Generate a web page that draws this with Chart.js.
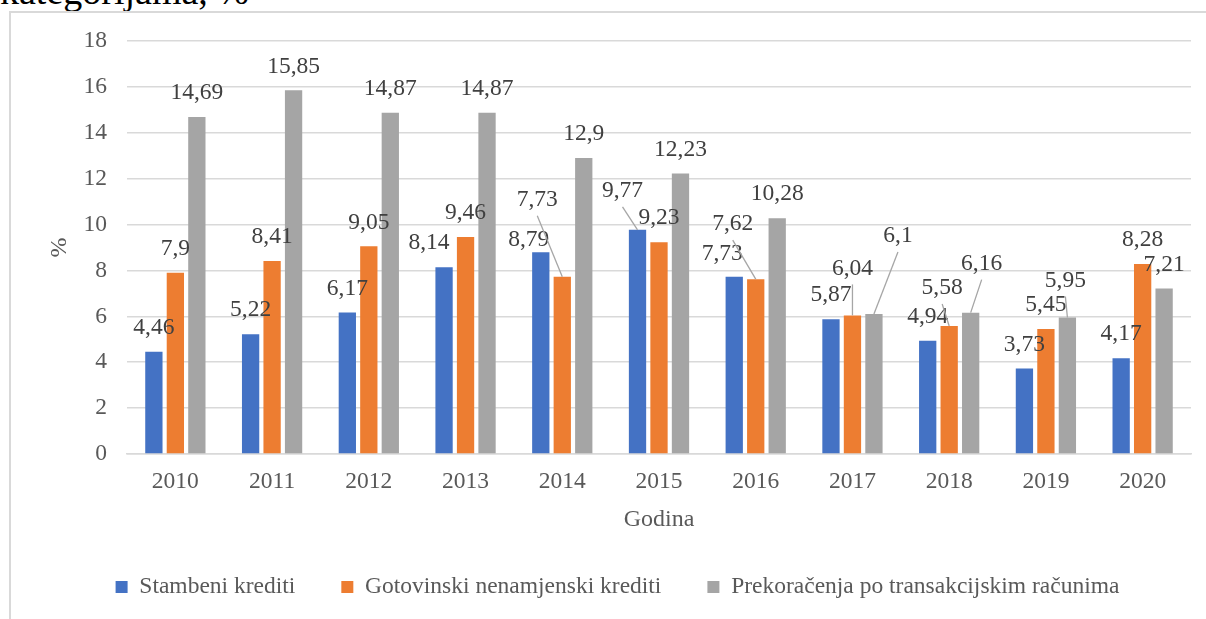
<!DOCTYPE html>
<html>
<head>
<meta charset="utf-8">
<script src="https://cdn.jsdelivr.net/npm/chart.js@4/dist/chart.umd.min.js"></script>
<style>
  html, body { margin: 0; padding: 0; background: #ffffff; overflow: hidden; }
  #wrap { position: relative; width: 1206px; height: 619px; overflow: hidden; }
  #frame { position: absolute; left: 9px; top: 11px; width: 1300px; height: 700px; border: 2px solid #d9d9d9; box-sizing: border-box; }
  #doctitle { position: absolute; left: 0; top: -27px; font-family: "Liberation Serif", "Times New Roman", serif; font-size: 38px; line-height: 37px; color: #000; white-space: nowrap; }
  #c { position: absolute; left: 0; top: 0; }
</style>
</head>
<body>
<div id="wrap">
  <div id="doctitle">kategorijama, %</div>
  <div id="frame"></div>
  <canvas id="c" width="1206" height="619"></canvas>
</div>
<script>
const categories = ["2010", "2011", "2012", "2013", "2014", "2015", "2016", "2017", "2018", "2019", "2020"];
const stambeni = [4.46, 5.22, 6.17, 8.14, 8.79, 9.77, 7.73, 5.87, 4.94, 3.73, 4.17];
const gotovinski = [7.9, 8.41, 9.05, 9.46, 7.73, 9.23, 7.62, 6.04, 5.58, 5.45, 8.28];
const prekoracenja = [14.69, 15.85, 14.87, 14.87, 12.9, 12.23, 10.28, 6.1, 6.16, 5.95, 7.21];
const seriesNames = ["Stambeni krediti", "Gotovinski nenamjenski krediti", "Prekoračenja po transakcijskim računima"];
const yTicks = [0, 2, 4, 6, 8, 10, 12, 14, 16, 18];

// label displacement (px) for moved data labels: "dataset-index": [dx, dy, leaderLine]
const labelShift = {
  "0-3": [-15, 0, false],
  "0-4": [-12, 12, false],
  "0-5": [-15, -15, true],
  "0-6": [-12, 1, false],
  "1-4": [-25, -53, true],
  "1-6": [-23, -31, true],
  "1-7": [0, -23, true],
  "1-8": [-7, -14, true],
  "2-7": [24, -54, true],
  "2-8": [11, -25, true],
  "2-9": [-2, -13, true]
};

const SERIF = '"Liberation Serif", "Times New Roman", serif';
const FS = 23.5;

const dataLabels = {
  id: 'dataLabels',
  afterDatasetsDraw(chart) {
    const ctx = chart.ctx;
    ctx.save();
    ctx.font = FS + 'px ' + SERIF;
    ctx.textAlign = 'center';
    ctx.textBaseline = 'middle';
    chart.data.datasets.forEach((ds, di) => {
      const meta = chart.getDatasetMeta(di);
      meta.data.forEach((el, i) => {
        const v = ds.data[i];
        const sh = labelShift[di + '-' + i] || [0, 0, false];
        const lx = el.x + sh[0];
        const ly = el.y - 24 + sh[1];
        if (sh[2]) {
          ctx.strokeStyle = '#a6a6a6';
          ctx.lineWidth = 1.3;
          ctx.beginPath();
          ctx.moveTo(lx, ly + 16);
          ctx.lineTo(el.x, el.y);
          ctx.stroke();
        }
        ctx.fillStyle = '#404040';
        ctx.fillText(String(v).replace('.', ','), lx, ly);
      });
    });
    ctx.restore();
  }
};

new Chart(document.getElementById('c'), {
  type: 'bar',
  data: {
    labels: categories,
    datasets: [
      { label: seriesNames[0], data: stambeni, backgroundColor: '#4472C4' },
      { label: seriesNames[1], data: gotovinski, backgroundColor: '#ED7D31' },
      { label: seriesNames[2], data: prekoracenja, backgroundColor: '#A5A5A5' }
    ]
  },
  options: {
    responsive: false,
    animation: false,
    devicePixelRatio: 1,
    layout: { padding: { left: 44, right: 15, top: 41, bottom: 10.25 } },
    datasets: { bar: { categoryPercentage: 0.6663, barPercentage: 0.805 } },
    plugins: {
      legend: {
        position: 'bottom',
        labels: {
          boxWidth: 12, boxHeight: 12, padding: 46,
          color: '#595959',
          font: { family: SERIF, size: FS }
        }
      },
      tooltip: { enabled: false }
    },
    scales: {
      x: {
        grid: { display: false, drawTicks: false },
        border: { display: true, color: '#d9d9d9', width: 1.5 },
        ticks: { color: '#595959', font: { family: SERIF, size: FS }, padding: 14, maxRotation: 0 },
        title: { display: true, text: 'Godina', color: '#595959', font: { family: SERIF, size: 24, lineHeight: 0.7 }, padding: { top: 0, bottom: 0.85 } },
        afterFit(s) { s.height = 75.25; }
      },
      y: {
        min: 0, max: 18,
        afterBuildTicks(s) { s.ticks = yTicks.map(v => ({ value: v })); },
        grid: { color: '#d9d9d9', lineWidth: 1.5, drawTicks: false },
        border: { display: false },
        ticks: { color: '#595959', font: { family: SERIF, size: FS }, padding: 20 },
        title: { display: true, text: '%', color: '#595959', font: { family: SERIF, size: 24, lineHeight: 1 }, padding: { top: 4, bottom: 0 } },
        afterFit(s) { s.width = 83; }
      }
    }
  },
  plugins: [dataLabels]
});
</script>
</body>
</html>
